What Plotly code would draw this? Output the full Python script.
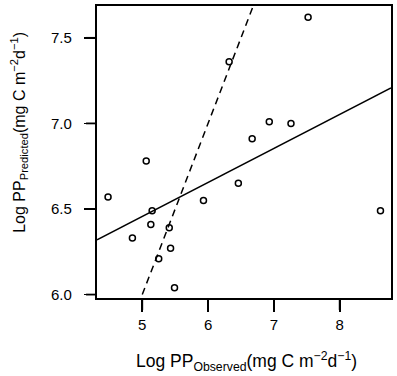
import plotly.graph_objects as go
import numpy as np

# Observed vs predicted log primary production
log_pp_observed = [4.48, 4.85, 5.06, 5.13, 5.15, 5.25, 5.41, 5.43, 5.49, 5.93,
                   6.32, 6.46, 6.67, 6.93, 7.26, 7.52, 8.62]
log_pp_predicted = [6.57, 6.33, 6.78, 6.41, 6.49, 6.21, 6.39, 6.27, 6.04, 6.55,
                    7.36, 6.65, 6.91, 7.01, 7.00, 7.62, 6.49]

# Fitted regression line (solid) and reference line (dashed): slope, intercept
fit_slope, fit_intercept = 0.1985, 5.464
ref_slope, ref_intercept = 1.0, 1.0
ref_x_start, ref_x_end = 5.0, 6.69

x_range = [4.312, 8.78]
y_range = [5.98, 7.686]
x_ticks = [5, 6, 7, 8]
y_ticks = [6.0, 6.5, 7.0, 7.5]
y_ticklabels = ["6.0", "6.5", "7.0", "7.5"]

W, H = 397, 376
ML, MR, MT, MB = 97, 5, 4, 78
plot_w, plot_h = W - ML - MR, H - MT - MB
XTICK_LEN, YTICK_LEN = 12, 11

xs = np.array(x_range)
fig = go.Figure()
fig.add_trace(go.Scatter(x=xs, y=fit_slope * xs + fit_intercept, mode="lines",
                         line=dict(color="black", width=1.5), hoverinfo="skip"))
xd = np.array([ref_x_start, ref_x_end])
fig.add_trace(go.Scatter(x=xd, y=ref_slope * xd + ref_intercept, mode="lines",
                         line=dict(color="black", width=1.5, dash="7px,5px"), hoverinfo="skip"))
fig.add_trace(go.Scatter(x=log_pp_observed, y=log_pp_predicted, mode="markers",
                         marker=dict(symbol="circle-open", size=6, color="black",
                                     line=dict(color="black", width=1.5))))

def x_to_paper(v):
    return (v - x_range[0]) / (x_range[1] - x_range[0])

def y_to_paper(v):
    return (v - y_range[0]) / (y_range[1] - y_range[0])

# tick marks drawn explicitly in paper coordinates (never clipped)
shapes = []
for t in x_ticks:
    px = x_to_paper(t)
    shapes.append(dict(type="line", xref="paper", yref="paper", x0=px, x1=px,
                       y0=0, y1=-XTICK_LEN / plot_h, layer="above",
                       line=dict(color="black", width=1.8)))
for t in y_ticks:
    py = y_to_paper(t)
    shapes.append(dict(type="line", xref="paper", yref="paper", y0=py, y1=py,
                       x0=0, x1=-YTICK_LEN / plot_w, layer="above",
                       line=dict(color="black", width=1.8)))

annotations = [
    dict(text=lab, xref="paper", yref="paper", x=-23 / plot_w, y=y_to_paper(t),
         xanchor="right", yanchor="middle", showarrow=False, font=dict(size=15))
    for t, lab in zip(y_ticks, y_ticklabels)
]
annotations += [
    dict(text="Log PP<sub>Observed</sub>(mg C m<sup>−2</sup>d<sup>−1</sup>)",
         xref="paper", yref="paper", x=0.509, y=-0.218, xanchor="center",
         yanchor="middle", showarrow=False, font=dict(size=17.5)),
    dict(text="Log PP<sub>Predicted</sub>(mg C m<sup>−2</sup>d<sup>−1</sup>)",
         xref="paper", yref="paper", x=-0.265, y=0.566, xanchor="center",
         yanchor="middle", showarrow=False, textangle=-90, font=dict(size=16)),
]

font = "Liberation Sans, Arial, Helvetica, sans-serif"
fig.update_layout(
    width=W, height=H,
    margin=dict(l=ML, r=MR, t=MT, b=MB),
    paper_bgcolor="white", plot_bgcolor="white",
    showlegend=False,
    font=dict(family=font, color="black", size=15),
    shapes=shapes,
    annotations=annotations,
    xaxis=dict(range=x_range, tickvals=x_ticks, ticks="outside", ticklen=XTICK_LEN,
               tickwidth=1.8, tickcolor="black", showgrid=False, zeroline=False,
               showline=True, linecolor="black", linewidth=1.8, mirror=True,
               tickfont=dict(size=15)),
    yaxis=dict(range=y_range, tickvals=y_ticks, showticklabels=False, ticks="outside",
               ticklen=YTICK_LEN, tickwidth=1.8, tickcolor="black",
               showgrid=False, zeroline=False, showline=True, linecolor="black",
               linewidth=1.8, mirror=True),
)
fig.write_html("out.html", config={"displayModeBar": False, "staticPlot": True},
               post_script="document.body.style.margin='0';document.body.style.overflow='hidden';")
